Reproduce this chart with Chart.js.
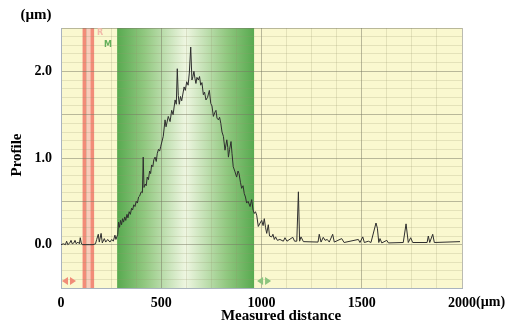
<!DOCTYPE html>
<html>
<head>
    <meta charset="UTF-8">
    <title>Profile</title>
    <script src="https://cdn.jsdelivr.net/npm/chart.js"></script>
    <style>
        html, body { margin: 0; padding: 0; background: #fff; }
        #wrap { width: 506px; height: 325px; }
    </style>
</head>
<body>
<div id="wrap"><canvas id="profileChart" width="506" height="325"></canvas></div>
<script>
    // measured distance (µm) and profile height (µm)
    const distance = [
        0, 12, 22, 28, 34, 44, 50, 56, 64, 70, 76, 84, 92, 96, 101, 106, 120, 140, 160, 172,
        178, 186, 191, 200, 206, 216, 223, 233, 244, 253, 261, 269, 274, 283,
        287, 292, 297, 302, 307, 312, 318, 323, 329, 334, 340, 346, 352, 357, 363, 369, 375, 381, 387,
        392, 400, 406, 410, 414, 420, 425, 430, 436, 442, 447, 452, 458, 463, 469, 475, 480, 486, 492, 497,
        510, 519, 524, 535, 544, 552, 559, 569, 575, 580, 585, 590, 596, 602,
        614, 620, 627, 634, 640, 647, 653, 658, 663, 668, 673, 678, 685, 691, 697, 703, 710, 716, 723, 731,
        740, 747, 753, 760, 768, 773, 778, 785, 791, 797, 803, 810, 818, 827, 832, 835, 841, 848, 853, 859,
        868, 876, 883, 888, 895, 901, 908, 914, 920, 926, 933, 943, 951, 958, 964, 970, 976, 984, 993,
        1001, 1008, 1014, 1020, 1026, 1034, 1040, 1051, 1057, 1064, 1070, 1079, 1092, 1109, 1117, 1127,
        1156, 1165, 1176, 1184, 1190, 1197, 1209, 1282, 1288, 1297, 1308, 1317, 1328, 1338, 1355, 1363,
        1400, 1412, 1483, 1491, 1505, 1513, 1533, 1546, 1571, 1578, 1585, 1591, 1600, 1625, 1633,
        1707, 1721, 1732, 1744, 1754, 1826, 1832, 1839, 1854, 1862, 1990
    ];
    const profile = [
        0.00, 0.01, 0.00, 0.04, 0.00, 0.02, 0.05, 0.01, 0.02, 0.05, 0.01, 0.03, 0.01, 0.08, 0.02, 0.00, 0.00, 0.00, 0.00, 0.01,
        0.06, 0.12, 0.03, 0.13, 0.02, 0.07, 0.03, 0.06, 0.03, 0.06, 0.04, 0.11, 0.06, 0.12,
        0.26, 0.20, 0.28, 0.23, 0.30, 0.26, 0.32, 0.28, 0.35, 0.31, 0.38, 0.35, 0.42, 0.40, 0.46, 0.44, 0.50, 0.48, 0.55,
        0.56, 0.61, 0.60, 1.01, 0.66, 0.70, 0.68, 0.78, 0.75, 0.85, 0.82, 0.92, 0.90, 0.98, 1.01, 0.96, 1.05, 1.10, 1.08, 1.13,
        1.25, 1.44, 1.36, 1.48, 1.42, 1.55, 1.50, 1.67, 1.62, 2.03, 1.72, 1.62, 1.71, 1.66,
        1.82, 1.78, 1.88, 1.84, 1.98, 2.28, 1.90, 1.94, 2.00, 1.92, 1.86, 1.93, 1.90, 1.94, 1.84, 1.87, 1.73, 1.76, 1.67, 1.70,
        1.78, 1.63, 1.60, 1.48, 1.53, 1.55, 1.46, 1.44, 1.47, 1.40, 1.30, 1.25, 1.09, 1.21, 1.12, 1.01, 1.10, 1.19, 1.05, 0.90,
        0.84, 0.78, 0.85, 0.82, 0.72, 0.65, 0.68, 0.59, 0.55, 0.48, 0.50, 0.44, 0.52, 0.40, 0.36, 0.38, 0.34, 0.21, 0.25,
        0.28, 0.22, 0.30, 0.20, 0.13, 0.23, 0.10, 0.09, 0.12, 0.06, 0.09, 0.05, 0.06, 0.04, 0.08, 0.04,
        0.085, 0.04, 0.04, 0.61, 0.04, 0.09, 0.035, 0.03, 0.12, 0.03, 0.085, 0.05, 0.06, 0.03, 0.12, 0.03,
        0.07, 0.025, 0.06, 0.025, 0.09, 0.025, 0.04, 0.025, 0.25, 0.19, 0.025, 0.07, 0.02, 0.05, 0.02,
        0.025, 0.24, 0.025, 0.08, 0.025, 0.025, 0.10, 0.025, 0.12, 0.025, 0.035
    ];
    const xLabels = [0, 500, 1000, 1500, 2000];
    const yLabels = [0, 1, 2];
    const redBand = [108, 165];
    const greenBand = [280, 963];

    const serif = '"Liberation Serif", "Times New Roman", serif';

    const isMajorY = v => Math.abs(v * 2 - Math.round(v * 2)) < 1e-6;
    const isMajorX = v => Math.abs(v % 500) < 1e-6;

    const decorations = {
        id: 'decorations',
        beforeDraw(chart) {
            const { ctx, chartArea: a, scales: { x } } = chart;
            ctx.save();
            ctx.fillStyle = '#faf8cf';
            ctx.fillRect(a.left, a.top, a.right - a.left, a.bottom - a.top);

            // green measuring band
            const g0 = x.getPixelForValue(greenBand[0]);
            const g1 = x.getPixelForValue(greenBand[1]);
            const grad = ctx.createLinearGradient(g0, 0, g1, 0);
            grad.addColorStop(0, 'rgb(88,170,80)');
            grad.addColorStop(0.2, 'rgb(145,200,128)');
            grad.addColorStop(0.5, 'rgb(238,246,225)');
            grad.addColorStop(0.8, 'rgb(145,200,128)');
            grad.addColorStop(1, 'rgb(88,170,80)');
            ctx.fillStyle = grad;
            ctx.fillRect(g0, a.top, g1 - g0, a.bottom - a.top);

            // red reference band
            const r0 = x.getPixelForValue(redBand[0]);
            const r1 = x.getPixelForValue(redBand[1]);
            ctx.fillStyle = 'rgb(249,205,188)';
            ctx.fillRect(r0, a.top, r1 - r0, a.bottom - a.top);
            ctx.fillStyle = 'rgb(242,140,120)';
            ctx.fillRect(r0, a.top, 3.5, a.bottom - a.top);
            ctx.fillRect(r1 - 3.5, a.top, 3.5, a.bottom - a.top);
            ctx.restore();
        },
        afterDraw(chart) {
            const { ctx, chartArea: a, scales: { x } } = chart;
            ctx.save();

            // small band markers
            ctx.font = 'bold 8px "DejaVu Sans", sans-serif';
            ctx.textAlign = 'left';
            ctx.textBaseline = 'middle';
            ctx.fillStyle = 'rgb(242,185,170)';
            ctx.fillText('R', x.getPixelForValue(redBand[1]) + 3, a.top + 5);
            ctx.fillStyle = 'rgb(100,175,90)';
            ctx.fillText('M', x.getPixelForValue(redBand[1]) + 10, a.top + 17);

            // double arrows at the bottom
            const arrow = (cx, color) => {
                const y = a.bottom - 7;
                ctx.fillStyle = color;
                ctx.beginPath();
                ctx.moveTo(cx - 7, y); ctx.lineTo(cx - 1, y - 4); ctx.lineTo(cx - 1, y + 4); ctx.closePath();
                ctx.moveTo(cx + 7, y); ctx.lineTo(cx + 1, y - 4); ctx.lineTo(cx + 1, y + 4); ctx.closePath();
                ctx.fill();
            };
            arrow(a.left + 8, 'rgb(240,140,120)');
            arrow(x.getPixelForValue(greenBand[1]) + 10, 'rgb(140,196,126)');

            // axis titles
            ctx.fillStyle = '#000';
            ctx.font = 'bold 15px ' + serif;
            ctx.textAlign = 'center';
            ctx.textBaseline = 'middle';
            ctx.fillText('(µm)', 36, 15);
            ctx.fillText('Measured distance', 281, 316);
            ctx.font = 'bold 14px ' + serif;
            ctx.textAlign = 'left';
            const last = xLabels[xLabels.length - 1];
            const w = ctx.measureText(String(last)).width;
            ctx.fillText('(µm)', x.getPixelForValue(last) + w / 2, 302);

            ctx.translate(17, 155);
            ctx.rotate(-Math.PI / 2);
            ctx.font = 'bold 15px ' + serif;
            ctx.textAlign = 'center';
            ctx.fillText('Profile', 0, 0);
            ctx.restore();
        }
    };

    const points = distance.map((d, i) => ({ x: d, y: profile[i] }));

    new Chart(document.getElementById('profileChart'), {
        type: 'line',
        data: {
            datasets: [{
                data: points,
                borderColor: '#2e2e2e',
                borderWidth: 1,
                pointRadius: 0,
                tension: 0,
                fill: false
            }]
        },
        options: {
            responsive: false,
            animation: false,
            layout: { padding: { left: 0, top: 28, right: 44, bottom: 0 } },
            plugins: { legend: { display: false }, tooltip: { enabled: false } },
            scales: {
                x: {
                    type: 'linear',
                    min: 0,
                    max: 2000,
                    afterFit(s) { s.height = 37; },
                    border: { color: '#a9b3bf', width: 1 },
                    grid: {
                        drawTicks: false,
                        color: c => isMajorX(c.tick.value) ? 'rgba(120,120,100,0.5)' : 'rgba(150,150,110,0.22)'
                    },
                    ticks: {
                        stepSize: 125,
                        autoSkip: false,
                        maxRotation: 0,
                        padding: 7,
                        color: '#000',
                        font: { family: serif, size: 14, weight: 'bold' },
                        callback: v => xLabels.includes(v) ? String(v) : ''
                    }
                },
                y: {
                    min: -0.5,
                    max: 2.5,
                    afterFit(s) { s.width = 61; },
                    border: { color: '#a9b3bf', width: 1 },
                    grid: {
                        drawTicks: false,
                        color: c => isMajorY(c.tick.value) ? 'rgba(120,120,100,0.5)' : 'rgba(150,150,110,0.22)'
                    },
                    ticks: {
                        stepSize: 0.1,
                        autoSkip: false,
                        padding: 9,
                        color: '#000',
                        font: { family: serif, size: 14, weight: 'bold' },
                        callback: v => {
                            const r = Math.round(v * 10) / 10;
                            return yLabels.includes(r) ? r.toFixed(1) : '';
                        }
                    }
                }
            }
        },
        plugins: [decorations]
    });
</script>
</body>
</html>
